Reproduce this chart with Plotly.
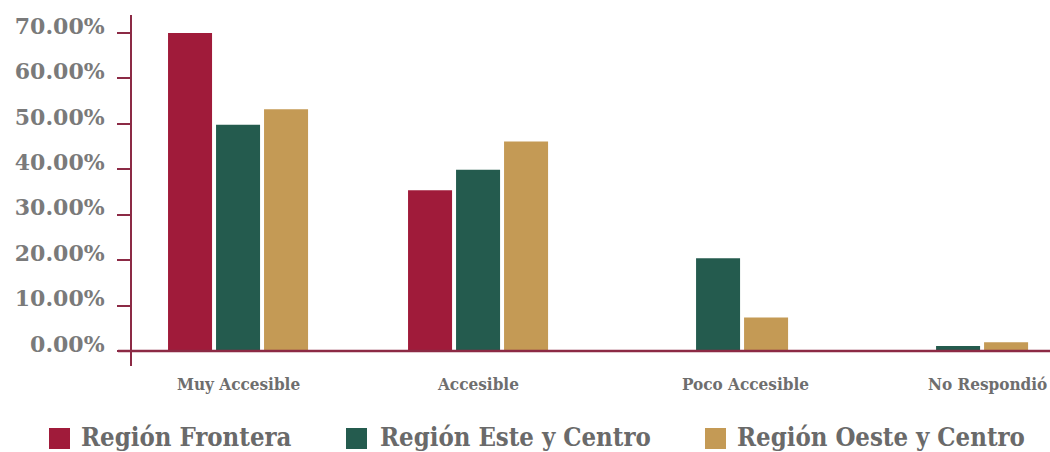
import plotly.graph_objects as go

categories = ["Muy Accesible", "Accesible", "Poco Accesible", "No Respondió"]
series_names = ["Región Frontera", "Región Este y Centro", "Región Oeste y Centro"]
frontera = [70.0, 35.4, 0.0, 0.0]
este_centro = [49.8, 39.9, 20.4, 1.1]
oeste_centro = [53.2, 46.1, 7.4, 1.9]
tick_values = [0, 10, 20, 30, 40, 50, 60, 70]
tick_labels = ["0.00%", "10.00%", "20.00%", "30.00%", "40.00%", "50.00%", "60.00%", "70.00%"]

colors = ["#A01B3A", "#245B4E", "#C49A55"]
axis_color = "#8C2A45"
text_gray = "#7A7A7A"

W, H = 1050, 452
ML, MR, MT, MB = 131, 0, 15, 101
PW, PH = W - ML - MR, H - MT - MB


def px_x(px):
    return (px - ML) / PW


def px_y(py):
    return (H - MB - py) / PH


fig = go.Figure()
for name, vals, col in zip(series_names, [frontera, este_centro, oeste_centro], colors):
    fig.add_trace(go.Bar(x=categories, y=vals, name=name, marker=dict(color=col, line=dict(width=0)),
                         showlegend=False))

fig.update_layout(
    width=W, height=H,
    margin=dict(l=ML, r=MR, t=MT, b=MB, pad=0),
    paper_bgcolor="white", plot_bgcolor="white",
    barmode="group", bargap=0.4, bargroupgap=0.083,
    xaxis=dict(range=[-0.446, 3.383], showticklabels=False, showgrid=False, zeroline=False,
               showline=False, ticks=""),
    yaxis=dict(range=[0, 73.96], tickvals=tick_values, ticktext=tick_labels, showgrid=False,
               zeroline=False, showline=False, ticks="outside", ticklen=13, tickwidth=2,
               tickcolor=axis_color, ticklabelstandoff=8, ticklabelshift=-7,
               tickfont=dict(family="DejaVu Serif", size=22, color=text_gray, weight="bold")),
)

# axis lines
fig.add_shape(type="line", xref="paper", yref="paper", x0=px_x(118), x1=1, y0=0, y1=0,
              line=dict(color=axis_color, width=2.5), layer="above")
fig.add_shape(type="line", xref="paper", yref="paper", x0=0, x1=0, y0=px_y(366), y1=1,
              line=dict(color=axis_color, width=2), layer="above")

# category labels
label_shift = [0, 0, 27, 29]
for cat, sh in zip(categories, label_shift):
    fig.add_annotation(x=cat, xref="x", y=px_y(384), yref="paper", text=cat, showarrow=False,
                       xshift=sh, xanchor="center", yanchor="middle",
                       font=dict(family="DejaVu Serif Condensed", size=17, color="#6E6E6E", weight="bold"))

# legend
legend_marker_x = [49, 346, 705]
legend_text_x = [79, 378, 735]
for name, col, mx, tx in zip(series_names, colors, legend_marker_x, legend_text_x):
    fig.add_shape(type="rect", xref="paper", yref="paper", x0=px_x(mx), x1=px_x(mx + 21),
                  y0=px_y(449), y1=px_y(428), fillcolor=col, line=dict(width=0))
    fig.add_annotation(x=px_x(tx), xref="paper", y=px_y(437), yref="paper", text=name,
                       showarrow=False, xanchor="left", yanchor="middle",
                       font=dict(family="DejaVu Serif Condensed", size=25.5, color="#6A6A6A", weight="bold"))

fig.write_html("out.html")
